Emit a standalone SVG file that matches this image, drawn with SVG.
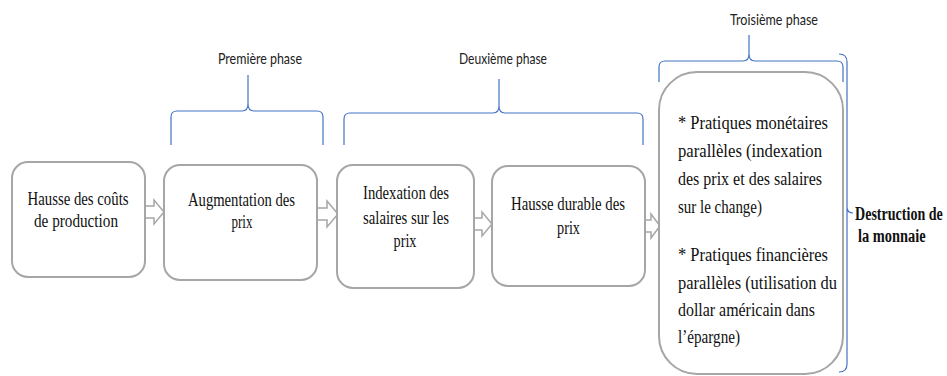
<svg xmlns="http://www.w3.org/2000/svg" width="947" height="376" viewBox="0 0 947 376">
<style>
.box{fill:#ffffff;stroke:#a6a6a6;stroke-width:2}
.t{font-family:"Liberation Serif","DejaVu Serif","Noto Serif","Times New Roman",Times,serif;font-size:19px;fill:#111111}
.c{text-anchor:middle}
.b{font-weight:bold}
.lab{font-family:Lato,"Liberation Sans",sans-serif;font-size:15px;fill:#222222;text-anchor:middle}
.brace{fill:none;stroke:#4472c4;stroke-width:1.2}
.arr{fill:#ffffff;stroke:#a6a6a6;stroke-width:1.5;stroke-linejoin:miter}
</style>
<rect width="947" height="376" fill="#ffffff"/>
<g id="braces">
<path class="brace" d="M171,145 V117 Q171,111 177,111 H242 Q248,111 248,104 V75 M248,104 Q248,111 254,111 H317 Q323,111 323,117 V145"/>
<path class="brace" d="M344,145 V119 Q344,113 350,113 H493 Q499,113 499,106 V79 M499,106 Q499,113 505,113 H637 Q643,113 643,119 V145"/>
<path class="brace" d="M659,82 V67 Q659,61 665,61 H743 Q749,61 749,54 V35 M749,54 Q749,61 755,61 H837 Q843,61 843,67 V82"/>
<path class="brace" d="M839,54 Q847,54 847,62 V207 Q847,213 853,213 M847,207 Q847,213 847,219 V364 Q847,372 839,372"/>
<text class="lab" x="260" y="64" textLength="84" lengthAdjust="spacingAndGlyphs">Première phase</text>
<text class="lab" x="503" y="64" textLength="88" lengthAdjust="spacingAndGlyphs">Deuxième phase</text>
<text class="lab" x="774" y="25" textLength="88" lengthAdjust="spacingAndGlyphs">Troisième phase</text>
</g>
<g id="connectors">
<polygon class="arr" points="145,206 154,206 154,200 164,212 154,224 154,218 145,218"/>
<polygon class="arr" points="317,208 327,208 327,201 338,214 327,227 327,220 317,220"/>
<polygon class="arr" points="474,218 482,218 482,212 492,224 482,236 482,230 474,230"/>
<polygon class="arr" points="645,220 651,220 651,214 660,226 651,238 651,232 645,232"/>
</g>
<g id="node1">
<rect class="box" x="12" y="162" width="133" height="115" rx="16"/>
<text class="t c" x="78" y="205" textLength="101" lengthAdjust="spacingAndGlyphs">Hausse des coûts</text>
<text class="t c" x="76" y="227" textLength="84" lengthAdjust="spacingAndGlyphs">de production</text>
</g>
<g id="node2">
<rect class="box" x="164" y="165" width="153" height="115" rx="16"/>
<text class="t c" x="241.5" y="206" textLength="107" lengthAdjust="spacingAndGlyphs">Augmentation des</text>
<text class="t c" x="242" y="228" textLength="21" lengthAdjust="spacingAndGlyphs">prix</text>
</g>
<g id="node3">
<rect class="box" x="337" y="165" width="137" height="123" rx="16"/>
<text class="t c" x="406" y="199" textLength="86" lengthAdjust="spacingAndGlyphs">Indexation des</text>
<text class="t c" x="406" y="224" textLength="86" lengthAdjust="spacingAndGlyphs">salaires sur les</text>
<text class="t c" x="405" y="247" textLength="23" lengthAdjust="spacingAndGlyphs">prix</text>
</g>
<g id="node4">
<rect class="box" x="492" y="166" width="153" height="120" rx="16"/>
<text class="t c" x="568" y="210" textLength="114" lengthAdjust="spacingAndGlyphs">Hausse durable des</text>
<text class="t c" x="568.5" y="234" textLength="23" lengthAdjust="spacingAndGlyphs">prix</text>
</g>
<g id="node5">
<rect class="box" x="659" y="72" width="184" height="302" rx="38"/>
<text class="t" x="678" y="129" textLength="150" lengthAdjust="spacingAndGlyphs">* Pratiques monétaires</text>
<text class="t" x="678" y="157" textLength="144" lengthAdjust="spacingAndGlyphs">parallèles (indexation</text>
<text class="t" x="678" y="185" textLength="144" lengthAdjust="spacingAndGlyphs">des prix et des salaires</text>
<text class="t" x="678" y="213" textLength="84" lengthAdjust="spacingAndGlyphs">sur le change)</text>
<text class="t" x="678" y="261" textLength="150" lengthAdjust="spacingAndGlyphs">* Pratiques financières</text>
<text class="t" x="678" y="289" textLength="159" lengthAdjust="spacingAndGlyphs">parallèles (utilisation du</text>
<text class="t" x="678" y="316" textLength="137" lengthAdjust="spacingAndGlyphs">dollar américain dans</text>
<text class="t" x="678" y="343" textLength="62" lengthAdjust="spacingAndGlyphs">l’épargne)</text>
</g>
<g id="result">
<text class="t b" transform="translate(855,220) scale(0.74,1)" x="0" y="0">Destruction de</text>
<text class="t b" transform="translate(858,242) scale(0.76,1)" x="0" y="0">la monnaie</text>
</g>
</svg>
